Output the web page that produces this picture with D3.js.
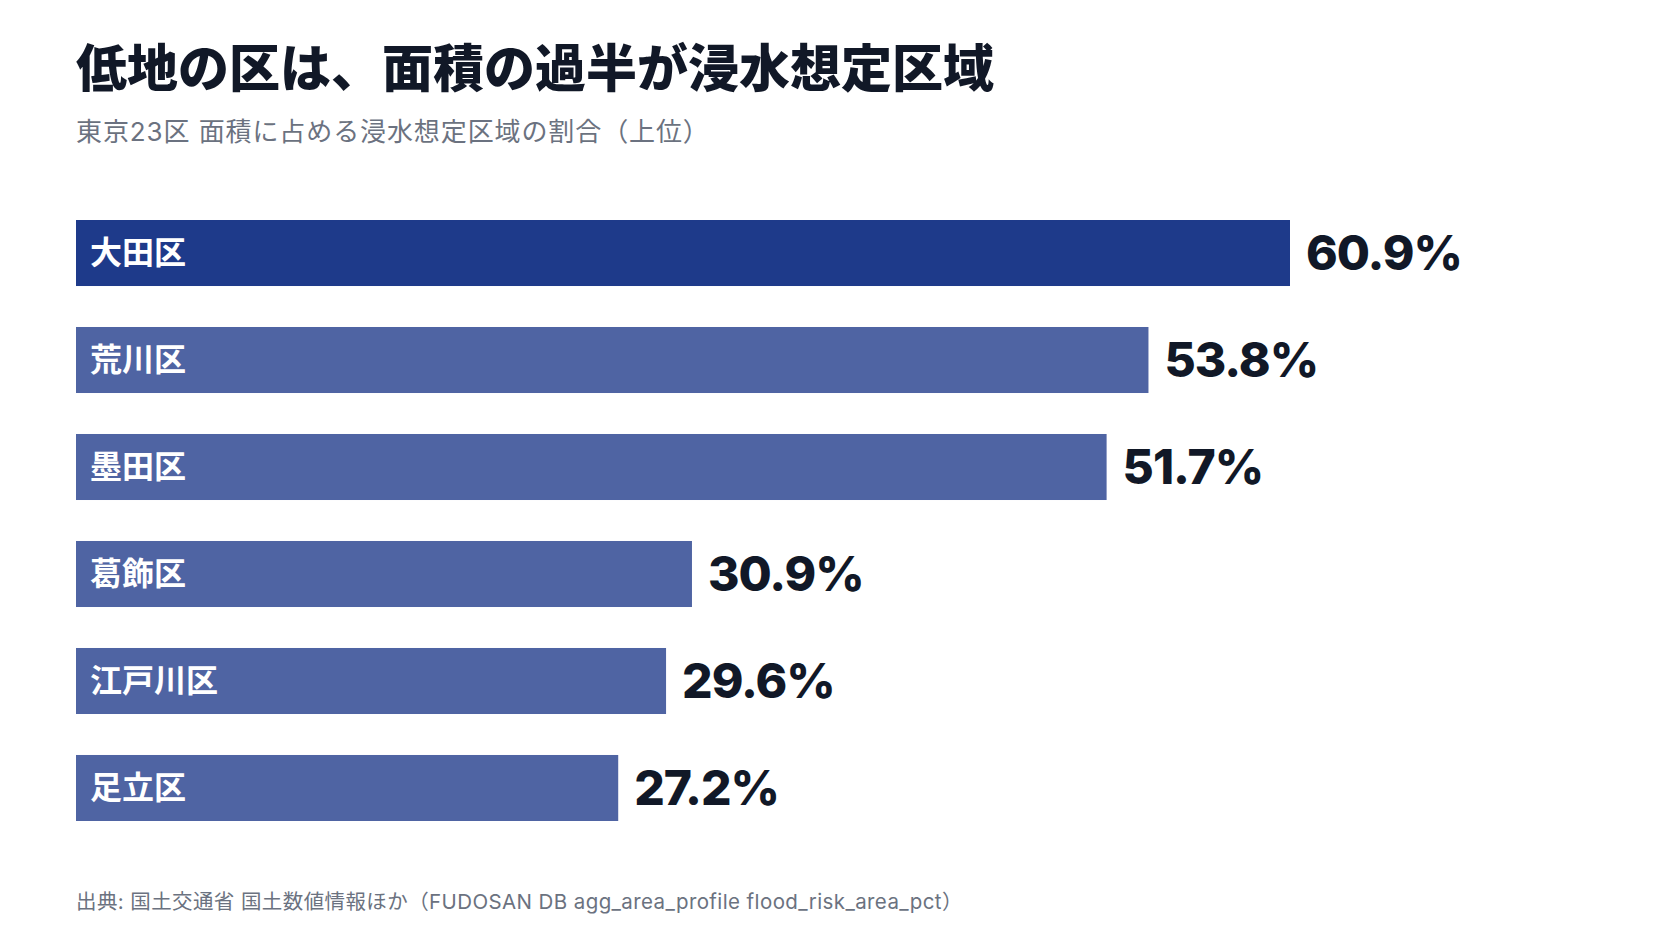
<!DOCTYPE html>
<html lang="ja">
<head>
<meta charset="utf-8">
<script src="https://cdn.jsdelivr.net/npm/d3@7"></script>
<style>
  html, body { margin: 0; padding: 0; background: #ffffff; }
  svg { display: block; }
</style>
</head>
<body>
<div id="wrapper"></div>
<script>
// データ
const wards = ["大田区", "荒川区", "墨田区", "葛飾区", "江戸川区", "足立区"];
const floodPct = [60.9, 53.8, 51.7, 30.9, 29.6, 27.2];

const titleText = "低地の区は、面積の過半が浸水想定区域";
const subtitleText = "東京23区 面積に占める浸水想定区域の割合（上位）";
const sourceText = "出典: 国土交通省 国土数値情報ほか（FUDOSAN DB agg_area_profile flood_risk_area_pct）";

const dataset = wards.map((w, i) => ({ ward: w, value: floodPct[i] }));

const width = 1680;
const height = 945;
const jp = "'Noto Sans CJK JP', 'Noto Sans', sans-serif";
// ラテン文字は Inter、和文は Noto にフォールバック
const mixed = "Inter, 'Noto Sans CJK JP', sans-serif";

const svg = d3.select("#wrapper")
  .append("svg")
    .attr("width", width)
    .attr("height", height);

// スケール
const xScale = d3.scaleLinear()
  .domain([0, d3.max(floodPct)])
  .range([76, 1290]);

const yScale = d3.scaleBand()
  .domain(wards)
  .range([220, 821])
  .paddingInner(0.383)
  .paddingOuter(0);

// タイトル
svg.append("text")
  .attr("x", 76)
  .attr("y", 87)
  .attr("font-family", jp)
  .attr("font-size", 51)
  .attr("font-weight", 900)
  .attr("fill", "#111827")
  .text(titleText);

svg.append("text")
  .attr("x", 76)
  .attr("y", 141)
  .attr("font-family", mixed)
  .attr("font-size", 26)
  .attr("letter-spacing", 0.9)
  .attr("fill", "#6b7280")
  .text(subtitleText);

// 棒
const rows = svg.append("g")
  .selectAll("g")
  .data(dataset)
  .join("g");

rows.append("rect")
  .attr("x", xScale(0))
  .attr("y", d => yScale(d.ward))
  .attr("width", d => xScale(d.value) - xScale(0))
  .attr("height", yScale.bandwidth())
  .attr("fill", (d, i) => i === 0 ? "#1e3a8a" : "#4f64a3");

rows.append("text")
  .attr("x", xScale(0) + 14)
  .attr("y", d => yScale(d.ward) + yScale.bandwidth() / 2)
  .attr("dy", "0.35em")
  .attr("font-family", jp)
  .attr("font-size", 32)
  .attr("font-weight", 700)
  .attr("fill", "#ffffff")
  .text(d => d.ward);

rows.append("text")
  .attr("x", d => xScale(d.value) + 16)
  .attr("y", d => yScale(d.ward) + yScale.bandwidth() / 2)
  .attr("dy", "0.36em")
  .attr("font-family", "Inter, 'Noto Sans', sans-serif")
  .attr("font-size", 48)
  .attr("font-weight", 800)
  .attr("letter-spacing", -1)
  .attr("fill", "#111827")
  .text(d => d3.format(".1f")(d.value) + "%");

// 出典
svg.append("text")
  .attr("x", 76)
  .attr("y", 909)
  .attr("font-family", mixed)
  .attr("font-size", 20.5)
  .attr("letter-spacing", 0.4)
  .attr("fill", "#6b7280")
  .text(sourceText);
</script>
</body>
</html>
